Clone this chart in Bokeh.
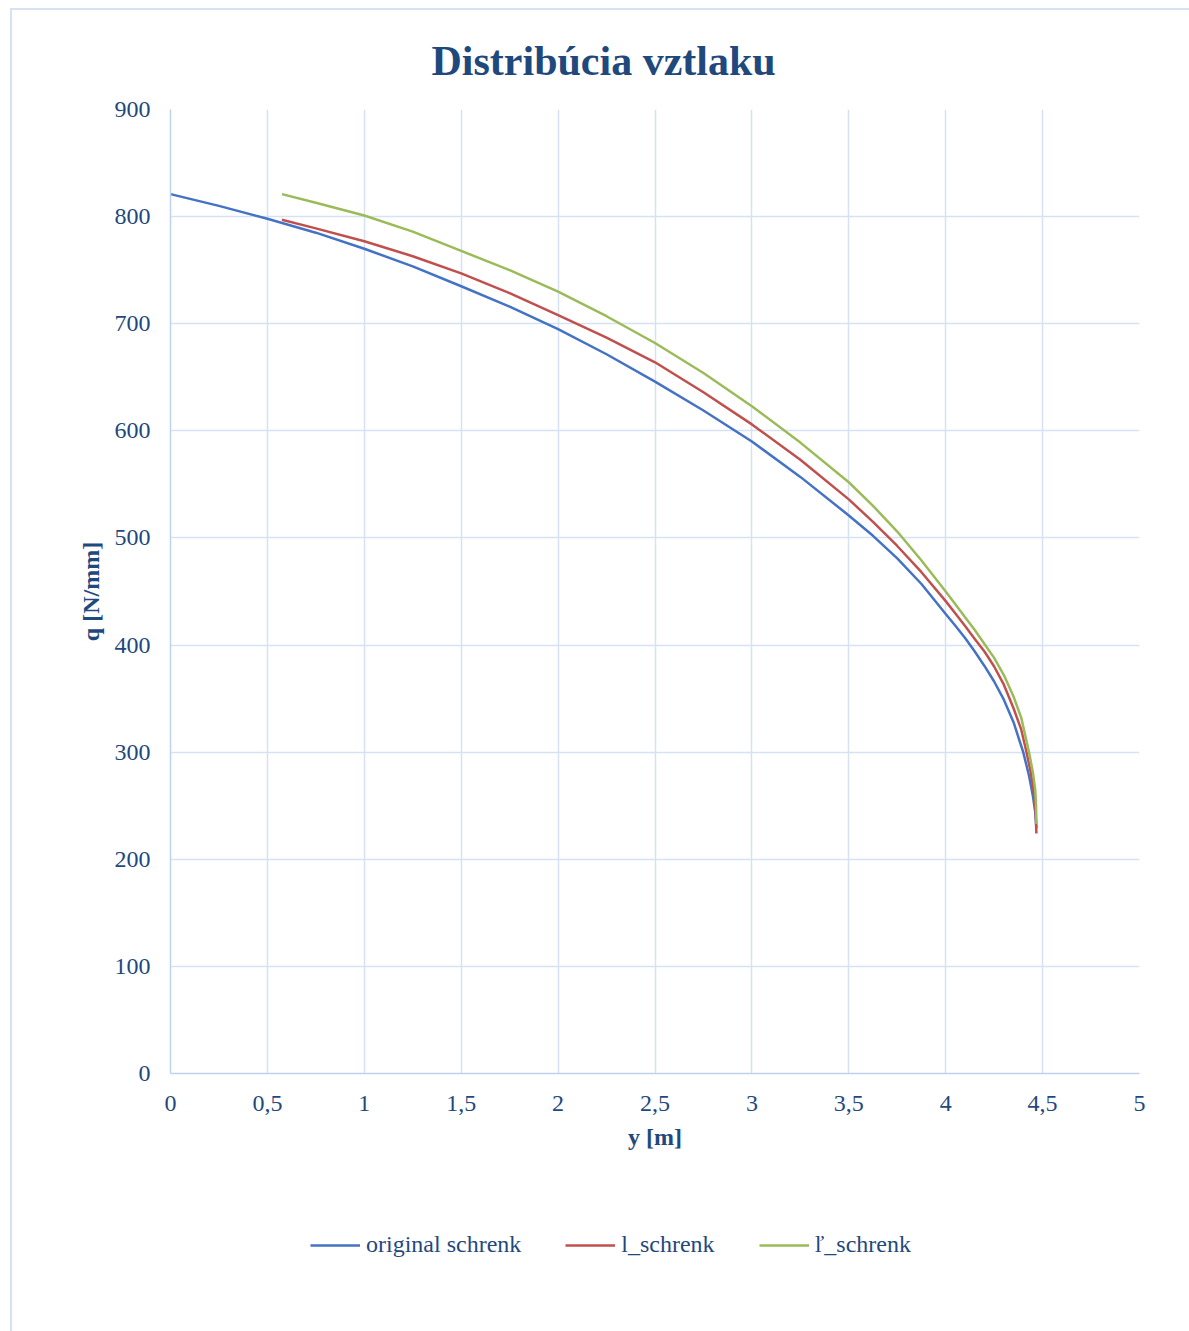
from bokeh.plotting import figure
from bokeh.layouts import column
from bokeh.models import Range1d, FixedTicker, Legend, LegendItem
from bokeh.embed import file_html
from bokeh.resources import INLINE

# ---- data -------------------------------------------------------------
title_text = "Distribúcia vztlaku"
x_label = "y [m]"
y_label = "q [N/mm]"

x_ticks = [0, 0.5, 1, 1.5, 2, 2.5, 3, 3.5, 4, 4.5, 5]
x_tick_labels = ["0", "0,5", "1", "1,5", "2", "2,5", "3", "3,5", "4", "4,5", "5"]
y_ticks = [0, 100, 200, 300, 400, 500, 600, 700, 800, 900]

series_names = ["original schrenk", "l_schrenk", "ľ_schrenk"]

orig_y = [0.0, 0.25, 0.5, 0.75, 1.0, 1.25, 1.5, 1.75, 2.0, 2.25, 2.5, 2.75, 3.0, 3.25, 3.5,
          3.625, 3.75, 3.875, 4.0, 4.05, 4.1, 4.15, 4.2, 4.25, 4.3, 4.35, 4.4, 4.43, 4.45,
          4.462, 4.468]
orig_q = [821, 810, 798, 785, 770, 753.5, 735, 716, 695, 671.5, 646, 619, 590, 557, 521,
          502, 481, 457, 429, 418, 406.5, 394, 380.5, 366, 349, 328, 300, 278, 259,
          244, 229]

l_y = [0.575, 0.75, 1.0, 1.25, 1.5, 1.75, 2.0, 2.25, 2.5, 2.75, 3.0, 3.25, 3.5,
       3.625, 3.75, 3.875, 4.0, 4.05, 4.1, 4.15, 4.2, 4.25, 4.3, 4.35, 4.39, 4.417, 4.44,
       4.455, 4.464, 4.468]
l_q = [797, 789, 777, 763, 747, 728.5, 708, 687, 664, 636, 606, 573, 536,
       515, 492.5, 468, 441, 429.5, 417.75, 405.75, 394, 380, 363, 341, 321, 300, 280,
       262, 246, 224]

lp_y = [0.575, 0.75, 1.0, 1.25, 1.5, 1.75, 2.0, 2.25, 2.5, 2.75, 3.0, 3.25, 3.5,
        3.625, 3.75, 3.875, 4.0, 4.05, 4.1, 4.15, 4.2, 4.25, 4.3, 4.35, 4.39, 4.43, 4.45,
        4.462, 4.466, 4.468]
lp_q = [821, 813, 801, 786, 768, 750, 730, 707, 682, 654, 623, 589, 552,
        530, 506, 479, 450, 438, 426, 414, 401, 388, 372, 352, 332, 300, 281,
        265, 252, 233]

# ---- styling ----------------------------------------------------------
FONT = "Liberation Serif"
TXT = "#1F497D"
GRID = "#D6E2F3"
AXIS = "#BFD1EC"
COLORS = ["#4472C4", "#C0504D", "#9BBB59"]
SERIES = [(orig_y, orig_q), (l_y, l_q), (lp_y, lp_q)]

p = figure(width=1177, height=1180, output_backend="svg", toolbar_location=None,
           x_range=Range1d(0, 5), y_range=Range1d(0, 900),
           min_border_left=158, min_border_right=50,
           min_border_top=97, min_border_bottom=117)
p.outline_line_color = None
p.background_fill_color = "white"
p.border_fill_color = "white"

for (xs, qs), c in zip(SERIES, COLORS):
    p.line(xs, qs, line_color=c, line_width=2.5, line_join="round")

# title
p.title.text = title_text
p.title.align = "left"
p.title.offset = 261
p.title.standoff = 51
p.title.text_font = FONT
p.title.text_font_size = "42px"
p.title.text_font_style = "bold"
p.title.text_color = TXT

# axes
p.xaxis.ticker = FixedTicker(ticks=x_ticks)
p.xaxis.major_label_overrides = {t: s for t, s in zip(x_ticks, x_tick_labels)}
p.yaxis.ticker = FixedTicker(ticks=y_ticks)
for ax in (p.xaxis, p.yaxis):
    ax.major_tick_line_color = None
    ax.minor_tick_line_color = None
    ax.major_tick_out = 0
    ax.major_tick_in = 0
    ax.axis_line_color = AXIS
    ax.axis_line_width = 1.5
    ax.major_label_text_font = FONT
    ax.major_label_text_font_size = "24px"
    ax.major_label_text_color = TXT
    ax.axis_label_text_font = FONT
    ax.axis_label_text_font_size = "24px"
    ax.axis_label_text_font_style = "bold"
    ax.axis_label_text_color = TXT
p.xaxis.axis_label = x_label
p.yaxis.axis_label = y_label
p.xaxis.major_label_standoff = 22
p.yaxis.major_label_standoff = 20
p.xaxis.axis_label_standoff = 10
p.yaxis.axis_label_standoff = 8

p.xgrid.ticker = FixedTicker(ticks=x_ticks)
p.ygrid.ticker = FixedTicker(ticks=y_ticks)
p.grid.grid_line_color = GRID
p.grid.grid_line_width = 1.5

# legend strip (separate figure below the chart; its series lie outside its view)
pl = figure(width=1177, height=141, output_backend="svg", toolbar_location=None,
            x_axis_type=None, y_axis_type=None,
            x_range=Range1d(-2, -1), y_range=Range1d(-2, -1),
            min_border_left=0, min_border_right=0, min_border_top=0, min_border_bottom=0)
pl.outline_line_color = None
pl.background_fill_color = "white"
pl.border_fill_color = "white"
sample = [pl.line(xs, qs, line_color=c, line_width=2.5) for (xs, qs), c in zip(SERIES, COLORS)]

legend = Legend(items=[LegendItem(label=n, renderers=[r]) for n, r in zip(series_names, sample)],
                orientation="horizontal", location=(140, 73),
                label_text_font=FONT, label_text_font_size="24px", label_text_color=TXT,
                glyph_width=50, glyph_height=24, label_height=24, label_standoff=6,
                spacing=44, padding=0, margin=0, border_line_color=None,
                background_fill_alpha=0)
pl.add_layout(legend)

layout = column(p, pl, spacing=0)
layout.styles = {"margin-left": "10px", "margin-top": "8px",
                 "border-left": "2px solid #D6E2F2", "border-top": "2px solid #D6E2F2"}

open("out.html", "w").write(file_html(layout, INLINE))
